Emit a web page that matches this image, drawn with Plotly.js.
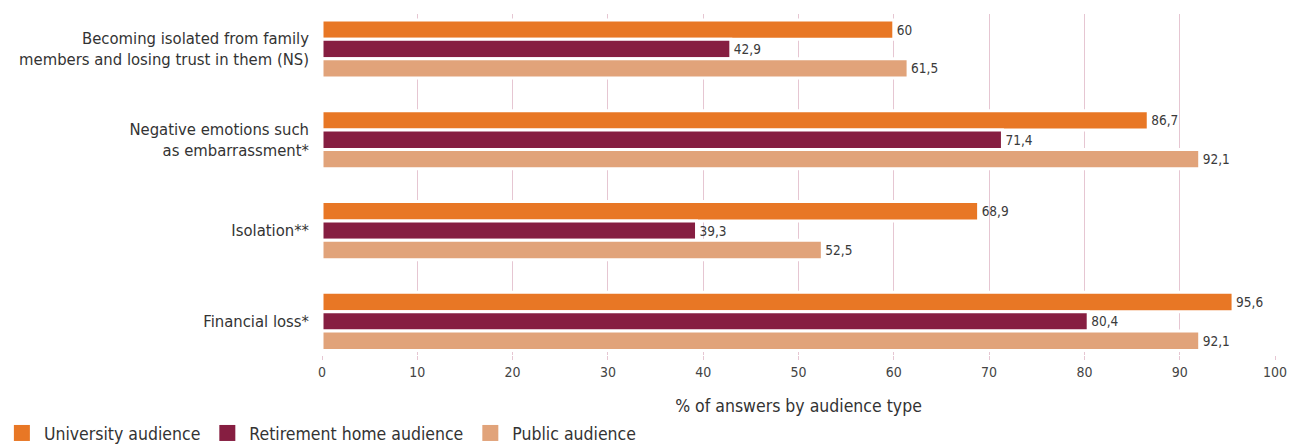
<!DOCTYPE html>
<html><head><meta charset="utf-8">
<script src="https://cdn.plot.ly/plotly-3.0.1.min.js"></script>
<style>html,body{margin:0;padding:0;background:#fff}#chart{width:1299px;height:445px}</style>
</head><body><div id="chart"></div>
<script>
const categories = [
  "Becoming isolated from family<br>members and losing trust in them (NS)",
  "Negative emotions such<br>as embarrassment*",
  "Isolation**",
  "Financial loss*"
];
const seriesNames = ["University audience", "Retirement home audience", "Public audience"];
const university = [60, 86.7, 68.9, 95.6];
const retirement = [42.9, 71.4, 39.3, 80.4];
const publicAud = [61.5, 92.1, 52.5, 92.1];
const xTicks = [0,10,20,30,40,50,60,70,80,90,100];
const colors = ["#E87725", "#861E41", "#E1A37A"];

const FONT = "'DejaVu Sans Condensed', 'Liberation Sans Narrow', sans-serif";
const fmt = v => String(v).replace('.', ',');

const traces = [university, retirement, publicAud].map((vals, i) => ({
  type: 'bar', orientation: 'h',
  name: seriesNames[i],
  x: vals, y: categories,
  text: vals.map(fmt),
  textposition: 'outside',
  cliponaxis: false,
  textfont: {family: FONT, size: 13.5, color: '#3a3a3a'},
  marker: {color: colors[i], line: {color: '#ffffff', width: 3}},
  showlegend: false,
  hoverinfo: 'x+name'
}));

const legendTraces = seriesNames.map((n, i) => ({
  type: 'scatter', mode: 'markers', name: n,
  x: [null], y: [null],
  marker: {symbol: 'square', size: 22, color: colors[i]},
  showlegend: true, hoverinfo: 'skip'
}));

const layout = {
  width: 1299, height: 445,
  margin: {l: 322, r: 24, t: 14, b: 90, autoexpand: false},
  paper_bgcolor: '#fff', plot_bgcolor: '#fff',
  font: {family: FONT, color: '#333'},
  barmode: 'group', bargap: 0.36, bargroupgap: 0,
  showlegend: true,
  legend: {orientation: 'h', x: -0.338, xanchor: 'left', y: -0.229, yanchor: 'middle',
           font: {family: FONT, size: 17.5, color: '#333'}, itemsizing: 'trace',
           itemwidth: 34, tracegroupgap: 0},
  xaxis: {
    range: [0, 100], tickvals: xTicks, ticktext: xTicks.map(String),
    showgrid: true, gridcolor: '#E6C6D2', gridwidth: 1, zeroline: false,
    showline: false, ticks: 'outside', ticklen: 4, tickcolor: '#E6C6D2',
    tickfont: {family: FONT, size: 14, color: '#444'},
    title: {text: '% of answers by audience type', font: {family: FONT, size: 17.5, color: '#333'}, standoff: 20},
    automargin: false,
    fixedrange: true
  },
  yaxis: {
    type: 'category', categoryorder: 'array', categoryarray: categories,
    range: [3.37, -0.385],
    showgrid: false, zeroline: false, showline: false, ticks: '',
    ticklabelstandoff: 12,
    tickfont: {family: FONT, size: 16.5, color: '#333'},
    automargin: false,
    fixedrange: true
  }
};

Plotly.newPlot('chart', traces.concat(legendTraces), layout, {displayModeBar: false, staticPlot: true});
</script>
</body></html>
